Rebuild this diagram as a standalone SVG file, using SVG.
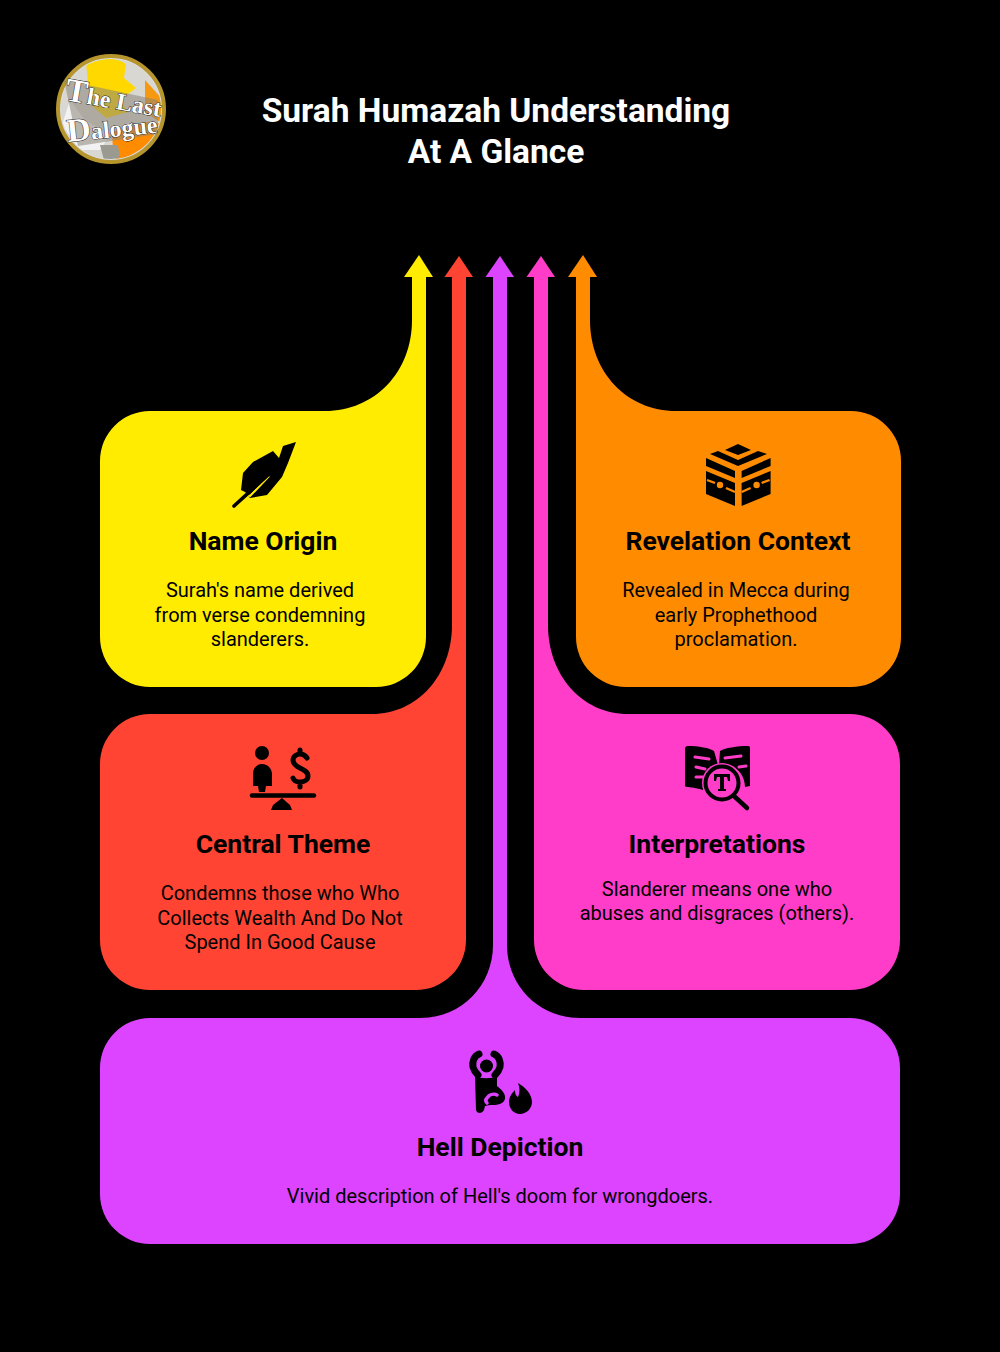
<svg xmlns="http://www.w3.org/2000/svg" width="1000" height="1352" viewBox="0 0 1000 1352">
<style>
text{font-family:Roboto,"Liberation Sans",sans-serif;fill:#000;text-anchor:middle}
.t{font-size:33.5px;font-weight:700;fill:#fff}
.h{font-size:26.5px;font-weight:700}
.b{font-size:20px}
.lg{font-family:"Liberation Serif",serif;font-weight:700;fill:#fff;stroke:#111;stroke-width:.9;text-anchor:start;paint-order:stroke}
.k{fill:#000}
.sk{fill:none;stroke:#000;stroke-linecap:round;stroke-linejoin:round}
</style>
<defs>
<clipPath id="globe"><circle cx="111" cy="109" r="50"/></clipPath>
<g id="kside">
<polygon points="706,458 735,471 735,478 706,466"/>
<polygon points="706,471 735,483 735,506 706,494"/>
<path d="M707 480L715 483M726 488L735 492" stroke="#ff8c00" stroke-width="2.4" fill="none"/>
<circle cx="720" cy="485" r="3.2" fill="#ff8c00"/>
</g>
</defs>
<rect width="1000" height="1352" fill="#000"/>

<g id="logo">
<circle cx="111" cy="109" r="53" fill="#dcdcdc" stroke="#b5952c" stroke-width="4"/>
<g clip-path="url(#globe)">
<rect x="55" y="55" width="115" height="110" fill="#d9d7d2"/>
<path d="M86 62C100 56 118 58 126 64L124 78L136 88L120 100L128 112L106 118L92 106L88 84Z" fill="#ffd800"/>
<path d="M112 132L145 122L165 124L165 165L118 165L113 150Z" fill="#ff8c00"/>
<path d="M145 80L163 100L160 122L145 112Z" fill="#f59a10"/>
<path d="M70 100L85 120L110 135L100 150L80 150L62 125Z" fill="#f2f2f2"/>
<path d="M100 145L118 145L120 158L104 160Z" fill="#9a9a90"/>
</g>
<polygon points="64,80 158,100 158,134 78,146 70,108" fill="#8a8478" opacity=".55"/>
<text class="lg" x="0" y="0" transform="translate(64 100) rotate(10)"><tspan font-size="33">T</tspan><tspan font-size="24">he Last</tspan></text>
<text class="lg" x="0" y="0" transform="translate(68 142) rotate(-6)"><tspan font-size="33">D</tspan><tspan font-size="24">alogue</tspan></text>
</g>

<text class="t" x="496" y="122">Surah Humazah Understanding</text>
<text class="t" x="496" y="163">At A Glance</text>

<g id="connectors">
<polygon points="404,277 419,255 433,277" fill="#ffec00"/>
<polygon points="444.500,277 459,256 473,277" fill="#ff4433"/>
<polygon points="485.500,277 500,256 514,277" fill="#dd44ff"/>
<polygon points="526.500,277 541,256 555,277" fill="#ff3dc8"/>
<polygon points="568,277 583,255 597,277" fill="#ff8c00"/>
</g>

<g id="name-origin">
<path d="M150 411H325C375 411 412 372 412 320V277H426V637A50 50 0 0 1 376 687H150A50 50 0 0 1 100 637V461A50 50 0 0 1 150 411Z" fill="#ffec00"/>
<g class="icon">
<path class="k" d="M296 442L283 446L279 458L273 451L253 462L243 473L241 490L245 492L250 498L267 495L282 477L288 463Z"/>
<path d="M269 476L250 496L241 492" fill="none" stroke="#ffec00" stroke-width="2.2"/>
<path class="sk" d="M234 506L268 475" stroke-width="3.6"/>
</g>
<text class="h" x="263" y="550">Name Origin</text>
<text class="b" x="260" y="597">Surah's name derived</text>
<text class="b" x="260" y="621.500">from verse condemning</text>
<text class="b" x="260" y="646">slanderers.</text>
</g>

<g id="revelation-context">
<path d="M851 411H676C627 411 590 372 590 320V277H576V637A50 50 0 0 0 626 687H851A50 50 0 0 0 901 637V461A50 50 0 0 0 851 411Z" fill="#ff8c00"/>
<g class="icon k">
<polygon points="738,444 751,450 738,455 725,450"/>
<polygon points="710,454 718,451 738,460 758,451 767,454 738,466"/>
<use href="#kside"/>
<use href="#kside" transform="translate(1476.600 0) scale(-1 1)"/>
</g>
<text class="h" x="738" y="550">Revelation Context</text>
<text class="b" x="736" y="597">Revealed in Mecca during</text>
<text class="b" x="736" y="621.500">early Prophethood</text>
<text class="b" x="736" y="646">proclamation.</text>
</g>

<g id="central-theme">
<path d="M150 714H372C418 714 452 675 452 625V277H466V940A50 50 0 0 1 416 990H150A50 50 0 0 1 100 940V764A50 50 0 0 1 150 714Z" fill="#ff4433"/>
<g class="icon">
<circle class="k" cx="262" cy="753" r="7"/>
<path class="k" d="M262 764C257 764 253 768 253 774V786H258L259 792H265L266 786H272V774C272 768 267 764 262 764Z"/>
<path class="sk" d="M252 795.500H314" stroke-width="4.500"/>
<path class="k" d="M282 798L290 805L292 810H271L273 805Z"/>
<path class="sk" d="M307 758C305 755 303 754 300 754C296 754 293 757 293 760C293 764 296 766 300 768C304 770 308 772 308 776C308 780 304 782 300 782C297 782 294 781 293 778M300 750V754M300 782V787" stroke-width="5"/>
</g>
<text class="h" x="283" y="853">Central Theme</text>
<text class="b" x="280" y="900">Condemns those who  Who</text>
<text class="b" x="280" y="924.500">Collects Wealth And Do Not</text>
<text class="b" x="280" y="949">Spend In Good Cause</text>
</g>

<g id="interpretations">
<path d="M850 714H628C582 714 548 675 548 625V277H534V940A50 50 0 0 0 584 990H850A50 50 0 0 0 900 940V764A50 50 0 0 0 850 714Z" fill="#ff3dc8"/>
<g class="icon">
<path class="k" d="M688 746C698 746 710 748 714 751L718 765L716 771C708 773 703 781 703 790C697 788 690 787 687 787C685 787 685 786 685 784V749C685 747 686 746 688 746Z"/>
<path class="k" d="M748 746C738 746 724 748 720 751L719 765C732 762 745 772 745 787L750 786V749C750 747 750 746 748 746Z"/>
<path d="M695 757L709 759M696 767L705 769M696 777L703 777M725 758L741 756M739 767L746 766" stroke="#ff3dc8" stroke-width="3" stroke-linecap="round" fill="none"/>
<circle cx="722" cy="783" r="20" fill="#ff3dc8"/>
<circle cx="722" cy="783" r="16.500" fill="none" stroke="#000" stroke-width="4"/>
<path class="sk" d="M734 796L747 808" stroke-width="4.500"/>
<path class="k" d="M714 774H730V781H728L727 777H724V789H726V791H718V789H720V777H717L716 781H714Z"/>
</g>
<text class="h" x="717" y="853">Interpretations</text>
<text class="b" x="717" y="896">Slanderer means one who</text>
<text class="b" x="717" y="920">abuses and disgraces (others).</text>
</g>

<g id="hell-depiction">
<path d="M150 1018H420C462 1018 493 985 493 945V277H507V945C507 985 538 1018 580 1018H850A50 50 0 0 1 900 1068V1194A50 50 0 0 1 850 1244H150A50 50 0 0 1 100 1194V1068A50 50 0 0 1 150 1018Z" fill="#dd44ff"/>
<g class="icon">
<circle class="k" cx="486.500" cy="1066" r="6.500"/>
<path class="sk" d="M479 1054C474 1056 472 1062 473 1067C474 1071 476 1073 478 1075" stroke-width="7"/>
<path class="sk" d="M494 1054C499 1056 501 1062 500 1067C499 1071 497 1073 495 1075" stroke-width="7"/>
<path class="k" d="M475 1076C481 1079 492 1079 497 1076L497 1086C502 1090 506 1094 505 1099C503 1105 496 1105 490 1105L485 1106L484 1110C482 1114 477 1114 476 1110Z"/>
<path d="M497 1095C493 1093 489 1095 487 1098C485 1100 486 1102 487 1103" fill="none" stroke="#dd44ff" stroke-width="3.500" stroke-linecap="round"/>
<path class="k" d="M518 1083C525 1087 532 1094 532 1102C532 1109 526 1114 520 1114C514 1114 509 1109 509 1102C509 1097 512 1093 515 1090C515 1094 516 1096 518 1097C520 1093 520 1088 518 1083Z"/>
</g>
<text class="h" x="500" y="1156">Hell Depiction</text>
<text class="b" x="500" y="1203">Vivid description of Hell's doom for wrongdoers.</text>
</g>
</svg>
